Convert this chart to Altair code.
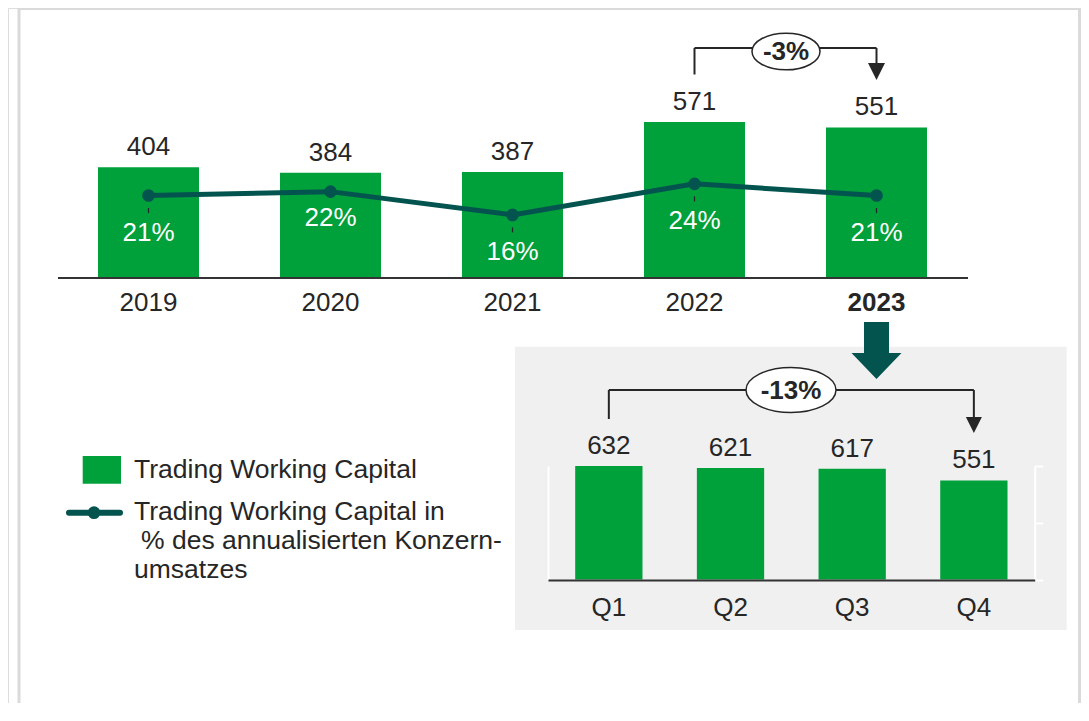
import altair as alt
import pandas as pd

# ---------------- data ----------------
years = ["2019", "2020", "2021", "2022", "2023"]
twc_values = [404, 384, 387, 571, 551]
twc_pct = [21, 22, 16, 24, 21]
quarters = ["Q1", "Q2", "Q3", "Q4"]
q_values = [632, 621, 617, 551]
year_change = "-3%"
quarter_change = "-13%"
legend_bar = "Trading Working Capital"
legend_line = ["Trading Working Capital in", "% des annualisierten Konzern-", "umsatzes"]
q_right_ticks = [0, 316, 632]

# ---------------- style ----------------
GREEN = "#00A03A"
TEAL = "#03544F"
TXT = "#262626"
FONT = "Liberation Sans"
W, H = 1073, 695
FS = 26
LFS = 26.5

top_df = pd.DataFrame({"Jahr": years, "TWC": twc_values, "Quote": twc_pct})
top_df["QuoteText"] = top_df["Quote"].astype(str) + "%"
q_df = pd.DataFrame({"Quartal": quarters, "TWC": q_values})


def one():
    return alt.Data(values=[{}])


def px(v):  # page pixel -> chart pixel (8px page margin)
    return v - 8


def year_x(axis=None):
    return alt.X("Jahr:N", sort=years, axis=axis,
                 scale=alt.Scale(type="band", domain=years, range=[px(57.5), px(967.5)],
                                 paddingInner=0.445, paddingOuter=0.2225))


def bar_y():
    return alt.Y("TWC:Q", axis=None,
                 scale=alt.Scale(domain=[0, 600], range=[px(277), px(277 - 600 * 0.2715)], nice=False, zero=True))


def pct_y():
    return alt.Y("Quote:Q", axis=None,
                 scale=alt.Scale(domain=[0, 40], range=[px(277), px(277 - 40 * 3.88)], nice=False, zero=True))


def q_x(axis=None):
    return alt.X("Quartal:N", sort=quarters, axis=axis,
                 scale=alt.Scale(type="band", domain=quarters, range=[px(548), px(1034.7)],
                                 paddingInner=0.447, paddingOuter=0.2235))


def q_y(axis=None):
    return alt.Y("TWC:Q", axis=axis,
                 scale=alt.Scale(domain=[0, 632], range=[px(579.5), px(579.5 - 632 * 0.1797)], nice=False, zero=True))


def ellipse_path(r):
    k = 0.5523
    return (f"M-1,0C-1,{-r*k:.3f},{-k:.3f},{-r:.3f},0,{-r:.3f}"
            f"C{k:.3f},{-r:.3f},1,{-r*k:.3f},1,0"
            f"C1,{r*k:.3f},{k:.3f},{r:.3f},0,{r:.3f}"
            f"C{-k:.3f},{r:.3f},-1,{r*k:.3f},-1,0Z")


TRI_DOWN = "M-1,-1L1,-1L0,1Z"
BIG_ARROW = "M-0.439,-1L0.439,-1L0.439,0.088L0.877,0.088L0,1L-0.877,0.088L-0.439,0.088Z"
VLINE = "M0,-1L0,1"

layers = []

# frame
FRAME = "#DADADA"
layers.append(alt.Chart(one()).mark_rule(color=FRAME, strokeWidth=3).encode(
    x=alt.value(px(19)), y=alt.value(0), y2=alt.value(H)))
layers.append(alt.Chart(one()).mark_rule(color=FRAME, strokeWidth=3).encode(
    x=alt.value(W - 1.5), y=alt.value(0), y2=alt.value(H)))
layers.append(alt.Chart(one()).mark_rule(color=FRAME, strokeWidth=2).encode(
    x=alt.value(px(19)), x2=alt.value(W), y=alt.value(1)))

# grey panel
layers.append(alt.Chart(one()).mark_rect(color="#F0F0F0").encode(
    x=alt.value(px(515)), x2=alt.value(px(1066.7)), y=alt.value(px(346.7)), y2=alt.value(px(630))))

# ---- top chart ----
year_axis = alt.Axis(orient="bottom", offset=px(277.5) - H, title=None, ticks=False, tickSize=0,
                     labelAngle=0, labelPadding=12.3, labelFontSize=FS, labelColor=TXT, labelFont=FONT,
                     domainColor="#333333", domainWidth=2, grid=False, zindex=1,
                     labelFontWeight={"condition": {"test": "datum.value == '2023'", "value": "bold"},
                                      "value": "normal"})
layers.append(alt.Chart(top_df).mark_bar(color=GREEN).encode(x=year_x(year_axis), y=bar_y()))
layers.append(alt.Chart(top_df).mark_text(fontSize=FS, font=FONT, color=TXT, dy=-20, baseline="middle").encode(
    x=year_x(), y=bar_y(), text="TWC:Q"))
layers.append(alt.Chart(top_df).mark_line(color=TEAL, strokeWidth=5).encode(x=year_x(), y=pct_y()))
layers.append(alt.Chart(top_df).mark_point(filled=True, size=160, color=TEAL, opacity=1).encode(
    x=year_x(), y=pct_y()))
layers.append(alt.Chart(top_df).transform_filter("datum.Jahr != '2020'").mark_point(
    shape=VLINE, size=25, color=TXT, strokeWidth=1.2, filled=False, opacity=1, yOffset=15).encode(
    x=year_x(), y=pct_y()))
layers.append(alt.Chart(top_df).transform_filter("datum.Jahr != '2020'").mark_text(
    fontSize=FS, font=FONT, color="white", dy=37.5, baseline="middle").encode(
    x=year_x(), y=pct_y(), text="QuoteText:N"))
layers.append(alt.Chart(top_df).transform_filter("datum.Jahr == '2020'").mark_text(
    fontSize=FS, font=FONT, color="white", dy=26, baseline="middle").encode(
    x=year_x(), y=pct_y(), text="QuoteText:N"))

# top bracket -3%
layers.append(alt.Chart(top_df).transform_filter("datum.Jahr == '2022'").mark_rule(color=TXT, strokeWidth=2).encode(
    x=year_x(), y=alt.value(px(48)), y2=alt.value(px(74.5))))
layers.append(alt.Chart(top_df).transform_filter("datum.Jahr == '2022' || datum.Jahr == '2023'").mark_line(
    color=TXT, strokeWidth=2).encode(x=year_x(), y=alt.value(px(48))))
layers.append(alt.Chart(top_df).transform_filter("datum.Jahr == '2023'").mark_rule(color=TXT, strokeWidth=2).encode(
    x=year_x(), y=alt.value(px(48)), y2=alt.value(px(66))))
layers.append(alt.Chart(top_df).transform_filter("datum.Jahr == '2023'").mark_point(
    shape=TRI_DOWN, size=17 * 17, filled=True, color=TXT, opacity=1).encode(
    x=year_x(), y=alt.value(px(71.5))))
layers.append(alt.Chart(one()).mark_point(shape=ellipse_path(0.54), size=68 * 68, filled=True, fill="white",
                                          stroke=TXT, strokeWidth=1.5, opacity=1).encode(
    x=alt.value(px(786)), y=alt.value(px(51.5))))
layers.append(alt.Chart(one()).mark_text(text=year_change, fontSize=26, fontWeight="bold", font=FONT, color=TXT,
                                         baseline="middle").encode(
    x=alt.value(px(786)), y=alt.value(px(52))))

# big down arrow
layers.append(alt.Chart(top_df).transform_filter("datum.Jahr == '2023'").mark_point(
    shape=BIG_ARROW, size=57 * 57, filled=True, color=TEAL, opacity=1).encode(
    x=year_x(), y=alt.value(px(350.5))))

# ---- quarter chart ----
q_axis = alt.Axis(orient="bottom", offset=px(580) - H, title=None, ticks=False, tickSize=0, labelAngle=0,
                  labelPadding=14, labelFontSize=FS, labelColor=TXT, labelFont=FONT, zindex=2,
                  domainColor="#333333", domainWidth=2, grid=False)
left_white = alt.Axis(orient="left", offset=-px(548), title=None, ticks=False, labels=False, grid=False,
                      domainColor="white", domainWidth=2, zindex=1)
right_white = alt.Axis(orient="right", offset=px(1034.7) - W, title=None, labels=False, grid=False,
                       domainColor="white", domainWidth=2, tickColor="white", tickSize=8, tickWidth=2,
                       values=q_right_ticks, zindex=1)
layers.append(alt.Chart(q_df).mark_bar(color=GREEN).encode(x=q_x(q_axis), y=q_y(left_white)))
layers.append(alt.Chart(q_df).mark_text(fontSize=FS, font=FONT, color=TXT, dy=-20, baseline="middle").encode(
    x=q_x(), y=q_y(right_white), text="TWC:Q"))

# bottom bracket -13%
layers.append(alt.Chart(q_df).transform_filter("datum.Quartal == 'Q1'").mark_rule(color=TXT, strokeWidth=2).encode(
    x=q_x(), y=alt.value(px(390)), y2=alt.value(px(419))))
layers.append(alt.Chart(q_df).transform_filter("datum.Quartal == 'Q1' || datum.Quartal == 'Q4'").mark_line(
    color=TXT, strokeWidth=2).encode(x=q_x(), y=alt.value(px(390))))
layers.append(alt.Chart(q_df).transform_filter("datum.Quartal == 'Q4'").mark_rule(color=TXT, strokeWidth=2).encode(
    x=q_x(), y=alt.value(px(390)), y2=alt.value(px(420))))
layers.append(alt.Chart(q_df).transform_filter("datum.Quartal == 'Q4'").mark_point(
    shape=TRI_DOWN, size=16 * 16, filled=True, color=TXT, opacity=1).encode(
    x=q_x(), y=alt.value(px(425))))
layers.append(alt.Chart(one()).mark_point(shape=ellipse_path(0.5), size=90 * 90, filled=True, fill="white",
                                          stroke=TXT, strokeWidth=1.5, opacity=1).encode(
    x=alt.value(px(791)), y=alt.value(px(390))))
layers.append(alt.Chart(one()).mark_text(text=quarter_change, fontSize=26, fontWeight="bold", font=FONT, color=TXT,
                                         baseline="middle").encode(
    x=alt.value(px(791)), y=alt.value(px(391))))

# ---- legend ----
layers.append(alt.Chart(one()).mark_rect(color=GREEN).encode(
    x=alt.value(px(82.7)), x2=alt.value(px(121)), y=alt.value(px(456)), y2=alt.value(px(483.7))))
layers.append(alt.Chart(one()).mark_rule(color=TEAL, strokeWidth=6, strokeCap="round").encode(
    x=alt.value(px(69)), x2=alt.value(px(120)), y=alt.value(px(512.7))))
layers.append(alt.Chart(one()).mark_point(filled=True, size=160, color=TEAL, opacity=1).encode(
    x=alt.value(px(94)), y=alt.value(px(512.7))))
layers.append(alt.Chart(one()).mark_text(text=legend_bar, fontSize=LFS, font=FONT, color=TXT, align="left",
                                         baseline="alphabetic").encode(
    x=alt.value(px(134)), y=alt.value(px(478.3))))
line_indent = [0, 7, 0]
for i, (txt, ind) in enumerate(zip(legend_line, line_indent)):
    layers.append(alt.Chart(one()).mark_text(text=txt, fontSize=LFS, font=FONT, color=TXT, align="left",
                                             baseline="alphabetic", dx=ind, dy=29 * i).encode(
        x=alt.value(px(134)), y=alt.value(px(519.5))))

chart = alt.layer(*layers).resolve_scale(x="independent", y="independent").properties(
    width=W, height=H, padding=0, autosize="none", background="white"
).configure_view(stroke=None).configure(font=FONT)

chart.save("out.html", embed_options={"renderer": "svg", "actions": False})
